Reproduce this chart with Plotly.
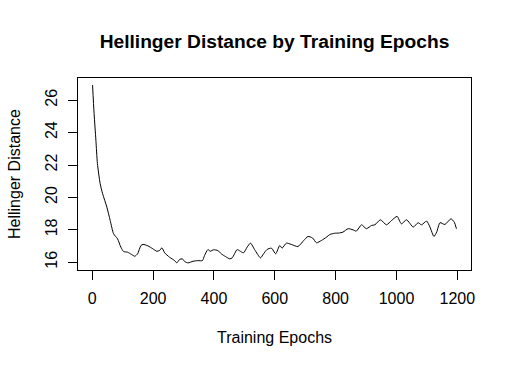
import plotly.graph_objects as go

epochs = [1, 6, 12, 17, 26, 34, 48, 59, 70, 83, 94, 103, 116, 129, 140, 149, 160, 167,
          183, 199, 212, 221, 229, 238, 254, 271, 278, 287, 296, 304, 315, 331, 347, 362,
          369, 380, 388, 399, 413, 424, 438, 452, 460, 476, 485, 497, 509, 520, 534, 553,
          563, 574, 589, 603, 616, 624, 638, 654, 676, 695, 709, 724, 737, 753, 770, 781,
          797, 810, 824, 841, 857, 868, 885, 901, 918, 929, 947, 967, 984, 1002, 1016,
          1033, 1055, 1071, 1082, 1099, 1110, 1123, 1132, 1143, 1159, 1179, 1190, 1197]
hellinger = [26.93, 25.18, 23.53, 22.09, 20.85, 20.23, 19.40, 18.58, 17.76, 17.45, 16.93,
             16.66, 16.62, 16.48, 16.37, 16.52, 17.03, 17.10, 17.01, 16.83, 16.68, 16.72,
             16.89, 16.58, 16.31, 16.10, 15.96, 16.17, 16.21, 16.04, 15.96, 16.06, 16.10,
             16.10, 16.41, 16.78, 16.68, 16.77, 16.72, 16.52, 16.35, 16.21, 16.27, 16.78,
             16.70, 16.58, 16.93, 17.18, 16.77, 16.27, 16.52, 16.78, 16.87, 16.52, 17.03,
             16.87, 17.18, 17.10, 16.97, 17.34, 17.59, 17.50, 17.20, 17.34, 17.55, 17.71,
             17.79, 17.80, 17.86, 18.07, 18.00, 17.92, 18.31, 18.07, 18.27, 18.31, 18.62,
             18.31, 18.58, 18.83, 18.37, 18.62, 18.17, 18.44, 18.31, 18.54, 18.17, 17.59,
             17.86, 18.44, 18.33, 18.68, 18.47, 18.07]
x_ticks = [0, 200, 400, 600, 800, 1000, 1200]
y_ticks = [16, 18, 20, 22, 24, 26]

FONT = "Liberation Sans, Arial, Helvetica, sans-serif"

fig = go.Figure()
fig.add_trace(go.Scatter(x=epochs, y=hellinger, mode="lines",
                         line=dict(color="black", width=1, shape="spline", smoothing=0.6),
                         showlegend=False, hoverinfo="skip"))

xr = max(epochs) - min(epochs)
yr = max(hellinger) - min(hellinger)

fig.update_layout(
    width=512, height=368,
    margin=dict(l=78, r=41, t=78, b=98, pad=0),
    paper_bgcolor="white", plot_bgcolor="white",
    font=dict(family=FONT, size=16, color="black"),
    title=dict(text="<b>Hellinger Distance by Training Epochs</b>",
               font=dict(family=FONT, size=19.2, color="black"),
               x=0.5, xref="paper", xanchor="center",
               y=1 - 41 / 368, yref="container", yanchor="middle"),
    xaxis=dict(range=[min(epochs) - 0.04 * xr, max(epochs) + 0.04 * xr],
               tickmode="array", tickvals=x_ticks, ticktext=[str(v) for v in x_ticks],
               showgrid=False, zeroline=False, showline=True, mirror=True,
               linecolor="black", linewidth=1, ticks="outside", ticklen=9,
               tickcolor="black", tickwidth=1, tickfont=dict(size=16),
               ticklabelstandoff=5),
    yaxis=dict(range=[min(hellinger) - 0.04 * yr, max(hellinger) + 0.04 * yr],
               tickmode="array", tickvals=y_ticks, ticktext=[str(v) for v in y_ticks],
               showgrid=False, zeroline=False, showline=True, mirror=True,
               linecolor="black", linewidth=1, ticks="outside", ticklen=9,
               tickcolor="black", tickwidth=1, tickangle=-90, tickfont=dict(size=16),
               ticklabelstandoff=5),
    annotations=[
        dict(text="Training Epochs", x=0.5, y=0, xref="paper", yref="paper",
             xanchor="center", yanchor="middle", yshift=-67, showarrow=False,
             font=dict(family=FONT, size=16, color="black")),
        dict(text="Hellinger Distance", x=0, y=0.5, xref="paper", yref="paper",
             xanchor="center", yanchor="middle", xshift=-64, textangle=-90,
             showarrow=False, font=dict(family=FONT, size=16, color="black")),
    ],
)

fig.write_html("out.html")
